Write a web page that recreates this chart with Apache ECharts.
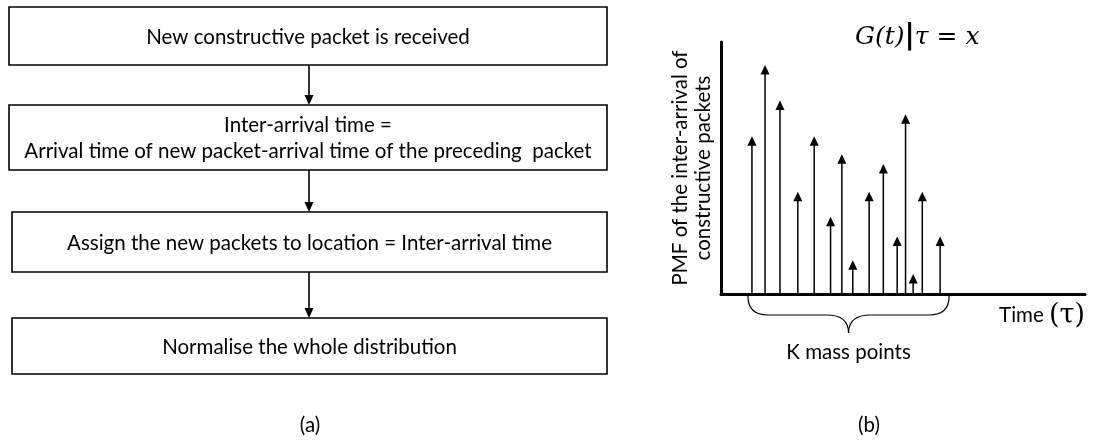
<!DOCTYPE html>
<html>
<head>
<meta charset="utf-8">
<script src="https://cdn.jsdelivr.net/npm/echarts@6/dist/echarts.min.js"></script>
<style>
html,body{margin:0;padding:0;background:#fff;}
#chart{width:1093px;height:443px;}
</style>
</head>
<body>
<div id="chart"></div>
<script>
// ---- Data ----
const flowSteps = [
  ["New constructive packet is received"],
  ["Inter-arrival time =", "Arrival time of new packet-arrival time of the preceding  packet"],
  ["Assign the new packets to location = Inter-arrival time"],
  ["Normalise the whole distribution"]
];
const massTimes = [8.5, 12.1, 16.2, 21.1, 25.6, 30.1, 33.2, 36.2, 40.7, 44.6, 48.4, 50.7, 52.8, 55.3, 60.2];
const massPmf   = [62.6, 90.9, 76.8, 40.6, 62.6, 30.7, 55.5, 13.4, 40.6, 51.6, 22.8, 71.3, 7.9, 40.6, 22.8];
const panelLabels = ["(a)", "(b)"];
const yAxisTitle = "PMF of the inter-arrival of\nconstructive packets";
const braceLabel = "K mass points";

// ---- Layout ----
const FONT = "Lato, 'Open Sans', sans-serif";
const FS = 20.5;
const boxes = [
  {x: 9,  y: 7,   w: 598, h: 58},
  {x: 9,  y: 105, w: 598, h: 65},
  {x: 12, y: 212, w: 595, h: 60},
  {x: 12, y: 318, w: 595, h: 56}
];

const chart = echarts.init(document.getElementById('chart'), null, {renderer: 'canvas'});

const graphics = [];
flowSteps.forEach((lines, i) => {
  const b = boxes[i];
  graphics.push({
    type: 'rect', shape: {x: b.x, y: b.y, width: b.w, height: b.h},
    style: {fill: '#fff', stroke: '#000', lineWidth: 1.6}, z: 10
  });
  graphics.push({
    type: 'text', x: b.x + b.w / 2, y: b.y + b.h / 2 + 1, z: 11,
    style: {text: lines.join('\n'), font: FS + "px " + FONT, fill: '#000',
            align: 'center', verticalAlign: 'middle', lineHeight: 26}
  });
  if (i < flowSteps.length - 1) {
    const nb = boxes[i + 1];
    const cx = 309;
    graphics.push({
      type: 'line', shape: {x1: cx, y1: b.y + b.h, x2: cx, y2: nb.y - 8},
      style: {stroke: '#000', lineWidth: 1.6}, z: 10
    });
    graphics.push({
      type: 'polygon', shape: {points: [[cx, nb.y], [cx - 4.5, nb.y - 10], [cx + 4.5, nb.y - 10]]},
      style: {fill: '#000'}, z: 10
    });
  }
});
graphics.push({
  type: 'text', x: 310, y: 425, z: 11,
  style: {text: panelLabels[0], font: FS + "px " + FONT, fill: '#000', align: 'center', verticalAlign: 'middle'}
});
graphics.push({
  type: 'text', x: 869, y: 425, z: 11,
  style: {text: panelLabels[1], font: FS + "px " + FONT, fill: '#000', align: 'center', verticalAlign: 'middle'}
});

const option = {
  animation: false,
  backgroundColor: '#fff',
  title: {
    text: '{g|G(t)}{bar|\u007C}{g|\u03C4 = x}',
    left: 850, top: 18,
    textStyle: {
      fontWeight: 'normal',
      rich: {
        g: {fontFamily: "'DejaVu Serif', serif", fontStyle: 'italic', fontWeight: 'normal', fontSize: 25, color: '#000'},
        bar: {fontFamily: "'DejaVu Sans', sans-serif", fontWeight: 'bold', fontSize: 28, color: '#000'}
      }
    }
  },
  grid: {left: 721, top: 42, right: 8, bottom: 149, containLabel: false},
  xAxis: {
    type: 'value', min: 0, max: 100,
    axisLine: {show: true, onZero: false, lineStyle: {color: '#000', width: 3}},
    axisTick: {show: false}, axisLabel: {show: false}, splitLine: {show: false},
    name: '{t|Time }{p|(\u03C4)}', nameLocation: 'end', nameGap: 0,
    nameTextStyle: {
      align: 'right', verticalAlign: 'top', padding: [8, 0, 0, 0],
      rich: {
        t: {fontFamily: FONT, fontSize: FS, color: '#000'},
        p: {fontFamily: "'DejaVu Serif', serif", fontSize: 27, color: '#000'}
      }
    }
  },
  yAxis: {
    type: 'value', min: 0, max: 100,
    axisLine: {show: true, lineStyle: {color: '#000', width: 3}},
    axisTick: {show: false}, axisLabel: {show: false}, splitLine: {show: false},
    name: yAxisTitle, nameLocation: 'middle', nameRotate: 90, nameGap: 6,
    nameTextStyle: {fontFamily: FONT, fontSize: FS, color: '#000', lineHeight: 23, verticalAlign: 'bottom'}
  },
  series: [{
    type: 'custom',
    data: massTimes.map((t, i) => [t, massPmf[i]]),
    renderItem: function (params, api) {
      const base = api.coord([api.value(0), 0]);
      const top = api.coord([api.value(0), api.value(1)]);
      return {
        type: 'group',
        children: [
          {type: 'line', shape: {x1: base[0], y1: base[1], x2: top[0], y2: top[1] + 8},
           style: {stroke: '#000', lineWidth: 1.5}},
          {type: 'polygon', shape: {points: [[top[0], top[1]], [top[0] - 4.5, top[1] + 9.5], [top[0] + 4.5, top[1] + 9.5]]},
           style: {fill: '#000'}}
        ]
      };
    }
  }],
  graphic: graphics
};
chart.setOption(option);

// Brace under the mass points, placed from the axis scale
const p0 = chart.convertToPixel({gridIndex: 0}, [massTimes[0], 0]);
const p1 = chart.convertToPixel({gridIndex: 0}, [massTimes[massTimes.length - 1], 0]);
const xl = p0[0] - 4, xr = p1[0] + 9, yb = p0[1] + 2, ym = yb + 19, mid = (xl + xr) / 2;
const bs = {fill: 'none', stroke: '#000', lineWidth: 1.2};
const braceParts = [
  {type: 'bezierCurve', shape: {x1: xl, y1: yb, cpx1: xl, cpy1: ym, x2: xl + 20, y2: ym}, style: bs, z: 10},
  {type: 'line', shape: {x1: xl + 20, y1: ym, x2: mid - 22, y2: ym}, style: bs, z: 10},
  {type: 'bezierCurve', shape: {x1: mid - 22, y1: ym, cpx1: mid, cpy1: ym, x2: mid, y2: ym + 18}, style: bs, z: 10},
  {type: 'bezierCurve', shape: {x1: mid, y1: ym + 18, cpx1: mid, cpy1: ym, x2: mid + 22, y2: ym}, style: bs, z: 10},
  {type: 'line', shape: {x1: mid + 22, y1: ym, x2: xr - 20, y2: ym}, style: bs, z: 10},
  {type: 'bezierCurve', shape: {x1: xr - 20, y1: ym, cpx1: xr, cpy1: ym, x2: xr, y2: yb}, style: bs, z: 10},
  {type: 'text', x: mid, y: ym + 37, z: 11,
   style: {text: braceLabel, font: FS + "px " + FONT, fill: '#000', align: 'center', verticalAlign: 'middle'}}
];
chart.setOption({graphic: graphics.concat(braceParts)});
</script>
</body>
</html>
